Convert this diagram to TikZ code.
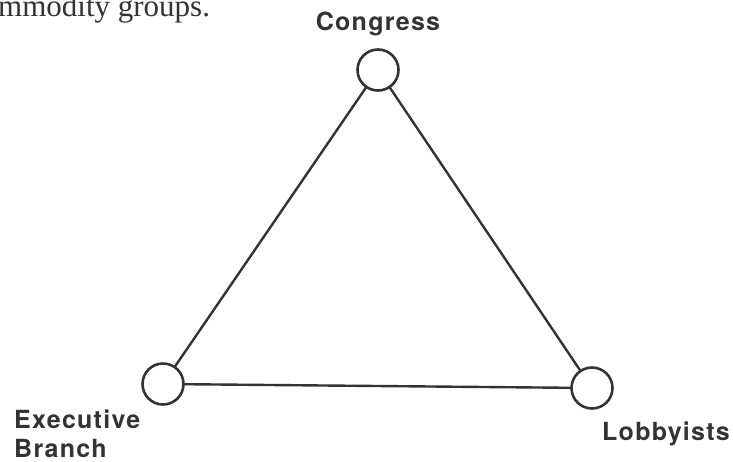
\documentclass[tikz,border=0pt]{standalone}
\usepackage{fontspec}
\setmainfont{TeX Gyre Heros}[LetterSpace=5]
\newfontfamily\scanserif{Liberation Serif}
\definecolor{ink}{HTML}{333333}
\begin{document}
\begin{tikzpicture}[x=1pt,y=-1pt,
  vertex/.style={circle,draw=ink,line width=2.6pt,minimum size=41pt,inner sep=0pt,fill=white},
  edge/.style={draw=ink,line width=2.4pt},
  lbl/.style={text=ink,font=\fontsize{25}{30}\selectfont\bfseries,inner sep=0pt}]
\useasboundingbox (0,0) rectangle (733,461);
\node[anchor=base west,inner sep=0pt,text=ink,font=\scanserif\fontsize{31}{32}\selectfont] (cap) at (-2,16) {mmodity groups.};
\coordinate (c) at (378,70);
\coordinate (e) at (163,384);
\coordinate (l) at (592,388);
\draw[edge] (c) -- (e) -- (l) -- cycle;
\node[vertex] (cong) at (c) {};
\node[vertex] (exec) at (e) {};
\node[vertex] (lobb) at (l) {};
\node[lbl,anchor=base] (tc) at (378,30) {Congress};
\node[lbl,anchor=base west] (te) at (14,428) {Executive};
\node[lbl,anchor=base west] (tb) at (14,457) {Branch};
\node[lbl,anchor=base] (tl) at (666,440) {Lobbyists};
\end{tikzpicture}
\end{document}
